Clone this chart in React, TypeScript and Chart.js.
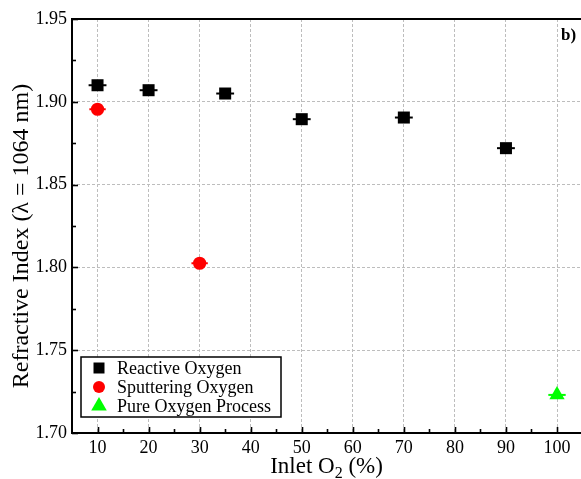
import React, { useEffect, useRef } from "react";
import { Chart, registerables } from "chart.js";

Chart.register(...registerables);

const reactiveX = [10, 20, 35, 50, 70, 90];
const reactiveY = [1.910, 1.907, 1.905, 1.8895, 1.8905, 1.872];
const reactiveErr = [1.75, 1.75, 1.75, 1.75, 1.75, 1.75];

const sputterX = [10, 30];
const sputterY = [1.8955, 1.8025];
const sputterErr = [1.6, 1.6];

const pureX = [100];
const pureY = [1.723];
const pureErr = [1.7];

const xTicks = [10, 20, 30, 40, 50, 60, 70, 80, 90, 100];
const xMinorTicks = [15, 25, 35, 45, 55, 65, 75, 85, 95];
const yTicks = [1.70, 1.75, 1.80, 1.85, 1.90, 1.95];
const yMinorTicks = [1.725, 1.775, 1.825, 1.875, 1.925];

const legendLabels = ["Reactive Oxygen", "Sputtering Oxygen", "Pure Oxygen Process"];
const errs = [reactiveErr, sputterErr, pureErr];

const FONT = "'Liberation Serif', 'Times New Roman', serif";
const W = 581;
const H = 479;

function drawMarker(ctx: CanvasRenderingContext2D, style: string, x: number, y: number, color: string) {
  ctx.save();
  ctx.fillStyle = color;
  ctx.beginPath();
  if (style === "rect") {
    ctx.rect(x - 5.5, y - 5.5, 11, 11);
  } else if (style === "circle") {
    ctx.arc(x, y, 6, 0, Math.PI * 2);
  } else {
    const r = 9;
    ctx.moveTo(x, y - r);
    ctx.lineTo(x + r * 0.866, y + r * 0.5);
    ctx.lineTo(x - r * 0.866, y + r * 0.5);
    ctx.closePath();
  }
  ctx.fill();
  ctx.restore();
}

const decor = {
  id: "decor",
  afterLayout(chart: any) {
    const xs = chart.scales.x;
    xs.right = W;
    xs.width = W - xs.left;
    xs.configure();
    chart.chartArea.right = W;
    chart.chartArea.width = W - chart.chartArea.left;
    chart.scales.y.configure();
  },
  beforeDatasetsDraw(chart: any) {
    const ctx = chart.ctx as CanvasRenderingContext2D;
    const xs = chart.scales.x;
    const ys = chart.scales.y;
    chart.data.datasets.forEach((ds: any, i: number) => {
      ctx.save();
      ctx.strokeStyle = ds.backgroundColor;
      ctx.lineWidth = 2;
      ds.data.forEach((p: any, j: number) => {
        const e = errs[i][j];
        const py = ys.getPixelForValue(p.y);
        ctx.beginPath();
        ctx.moveTo(xs.getPixelForValue(p.x - e), py);
        ctx.lineTo(xs.getPixelForValue(p.x + e), py);
        ctx.stroke();
      });
      ctx.restore();
    });
  },
  afterDraw(chart: any) {
    const ctx = chart.ctx as CanvasRenderingContext2D;
    const { left, right, top, bottom } = chart.chartArea;
    const xs = chart.scales.x;
    const ys = chart.scales.y;
    ctx.save();
    // ticks
    ctx.strokeStyle = "#000";
    ctx.lineWidth = 1.6;
    xTicks.forEach((v) => {
      const px = Math.round(xs.getPixelForValue(v)) + 0.5;
      ctx.beginPath(); ctx.moveTo(px, bottom); ctx.lineTo(px, bottom - 6); ctx.stroke();
    });
    xMinorTicks.forEach((v) => {
      const px = Math.round(xs.getPixelForValue(v)) + 0.5;
      ctx.beginPath(); ctx.moveTo(px, bottom); ctx.lineTo(px, bottom - 4); ctx.stroke();
    });
    yTicks.forEach((v) => {
      const py = Math.round(ys.getPixelForValue(v)) + 0.5;
      ctx.beginPath(); ctx.moveTo(left, py); ctx.lineTo(left + 6, py); ctx.stroke();
    });
    yMinorTicks.forEach((v) => {
      const py = Math.round(ys.getPixelForValue(v)) + 0.5;
      ctx.beginPath(); ctx.moveTo(left, py); ctx.lineTo(left + 4, py); ctx.stroke();
    });
    // frame
    ctx.lineWidth = 2;
    ctx.beginPath();
    ctx.moveTo(right + 2, top);
    ctx.lineTo(left, top);
    ctx.lineTo(left, bottom);
    ctx.lineTo(right + 2, bottom);
    ctx.stroke();

    // legend
    const bx = 81, by = 357, bw = 200, bh = 60;
    ctx.fillStyle = "#fff";
    ctx.fillRect(bx, by, bw, bh);
    ctx.lineWidth = 1.5;
    ctx.strokeRect(bx, by, bw, bh);
    ctx.font = `18px ${FONT}`;
    ctx.textBaseline = "middle";
    ctx.textAlign = "left";
    chart.data.datasets.forEach((ds: any, i: number) => {
      const ry = 368 + i * 19;
      drawMarker(ctx, ds.pointStyle, 99, ry, ds.backgroundColor);
      ctx.fillStyle = "#000";
      ctx.fillText(legendLabels[i], 117, ry + 1);
    });

    // panel label
    ctx.font = `bold 17px ${FONT}`;
    ctx.textAlign = "left";
    ctx.textBaseline = "alphabetic";
    ctx.fillStyle = "#000";
    ctx.fillText("b)", 561, 40);

    // x title
    ctx.font = `23px ${FONT}`;
    const t1 = "Inlet O";
    const t2 = "2";
    const t3 = " (%)";
    const w1 = ctx.measureText(t1).width;
    const w3 = ctx.measureText(t3).width;
    ctx.font = `16px ${FONT}`;
    const w2 = ctx.measureText(t2).width;
    const total = w1 + w2 + w3;
    const sx = (left + right) / 2 - total / 2;
    const base = 473;
    ctx.font = `23px ${FONT}`;
    ctx.fillText(t1, sx, base);
    ctx.font = `16px ${FONT}`;
    ctx.fillText(t2, sx + w1, base + 5);
    ctx.font = `23px ${FONT}`;
    ctx.fillText(t3, sx + w1 + w2, base);

    // y title
    ctx.translate(28, 236);
    ctx.rotate(-Math.PI / 2);
    ctx.textAlign = "center";
    ctx.font = `24px ${FONT}`;
    ctx.fillText("Refractive Index (\u03bb = 1064 nm)", 0, 0);
    ctx.restore();
  },
};

export default function App() {
  const ref = useRef<HTMLCanvasElement>(null);
  useEffect(() => {
    const chart = new Chart(ref.current!, {
      type: "scatter",
      data: {
        datasets: [
          {
            label: legendLabels[0],
            data: reactiveX.map((x, i) => ({ x, y: reactiveY[i] })),
            backgroundColor: "#000000",
            borderColor: "#000000",
            pointStyle: "rect",
            pointRadius: 8.5,
            borderWidth: 0,
          },
          {
            label: legendLabels[1],
            data: sputterX.map((x, i) => ({ x, y: sputterY[i] })),
            backgroundColor: "#ff0000",
            borderColor: "#ff0000",
            pointStyle: "circle",
            pointRadius: 6.6,
            borderWidth: 0,
          },
          {
            label: legendLabels[2],
            data: pureX.map((x, i) => ({ x, y: pureY[i] })),
            backgroundColor: "#00ff00",
            borderColor: "#00ff00",
            pointStyle: "triangle",
            pointRadius: 8.8,
            borderWidth: 0,
          },
        ] as any,
      },
      options: {
        animation: false,
        responsive: false,
        devicePixelRatio: 1,
        layout: { padding: { top: 19, left: 0, right: 0, bottom: 0 } },
        plugins: { legend: { display: false }, tooltip: { enabled: false } },
        scales: {
          x: {
            type: "linear",
            min: 5,
            max: 104.7,
            afterFit: (s: any) => { s.height = 46; s.paddingLeft = 0; s.paddingRight = 0; },
            afterBuildTicks: (s: any) => { s.ticks = xTicks.map((v) => ({ value: v })); },
            grid: { color: "#bdbdbd", lineWidth: 1, drawTicks: false },
            border: { display: false, dash: [3, 2] },
            ticks: {
              color: "#000",
              font: { family: FONT, size: 18 },
              padding: 4,
              maxRotation: 0,
              autoSkip: false,
            },
          },
          y: {
            type: "linear",
            min: 1.7,
            max: 1.95,
            afterFit: (s: any) => { s.width = 72; s.paddingTop = 0; s.paddingBottom = 0; },
            afterBuildTicks: (s: any) => { s.ticks = yTicks.map((v) => ({ value: v })); },
            grid: { color: "#bdbdbd", lineWidth: 1, drawTicks: false },
            border: { display: false, dash: [3, 2] },
            ticks: {
              color: "#000",
              font: { family: FONT, size: 18 },
              padding: 5,
              autoSkip: false,
              callback: (v: any) => Number(v).toFixed(2),
            },
          },
        },
      },
      plugins: [decor],
    });
    return () => chart.destroy();
  }, []);
  return (
    <div style={{ position: "fixed", left: 0, top: 0, width: W, height: H, background: "#fff" }}>
      <canvas ref={ref} width={W} height={H} />
    </div>
  );
}
